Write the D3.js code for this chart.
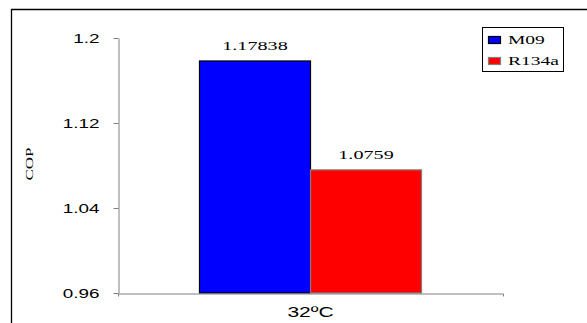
<!DOCTYPE html>
<html><head><meta charset="utf-8">
<script src="https://cdn.jsdelivr.net/npm/d3@7"></script>
<style>body{margin:0;background:#fff}svg{display:block}</style>
</head><body>
<script>
const categories = ["32ºC"];
const seriesNames = ["M09", "R134a"];
const seriesColors = ["#0000ff", "#ff0000"];
const seriesStrokes = ["#000000", "#808080"];
const values = { "M09": [1.17838], "R134a": [1.0759] };
const valueLabels = { "M09": ["1.17838"], "R134a": ["1.0759"] };
const yTicks = [0.96, 1.04, 1.12, 1.2];
const yTickLabels = ["0.96", "1.04", "1.12", "1.2"];

const W = 587, H = 323;
const svg = d3.select("body").append("svg").attr("width", W).attr("height", H);

// horizontally stretched glyphs, like the reference
function stretch(sel, k) {
  sel.each(function() {
    const w = this.getComputedTextLength();
    d3.select(this).attr("textLength", w * k).attr("lengthAdjust", "spacingAndGlyphs");
  });
}

// outer frame
svg.append("path").attr("d", `M11.5,${H}V9.5H${W}`).attr("fill","none").attr("stroke","#000").attr("stroke-width",1.3);

const plotLeft = 118, plotRight = 503, plotTop = 38, plotBottom = 293;
const x0 = d3.scaleBand().domain(categories).range([plotLeft, plotRight]).paddingInner(0).paddingOuter(0);
const x1 = d3.scaleBand().domain(seriesNames).range([0, x0.bandwidth()]).paddingInner(0).paddingOuter(0.734);
const y = d3.scaleLinear().domain([0.96, 1.2]).range([plotBottom, plotTop]);

// y axis
const yAxis = d3.axisLeft(y).tickValues(yTicks).tickFormat((d,i)=>yTickLabels[i]).tickSize(5).tickSizeOuter(0).tickPadding(14);
const gy = svg.append("g").attr("transform",`translate(${plotLeft+0.5},0)`).call(yAxis);
gy.select(".domain").attr("stroke","#808080");
gy.selectAll(".tick line").attr("stroke","#808080");
gy.selectAll(".tick text").attr("font-family","Liberation Sans, Arial").attr("font-size",13).attr("fill","#000").call(stretch, 1.45);

// bars
const g = svg.append("g");
seriesNames.forEach((s, si) => {
  categories.forEach((c, ci) => {
    const v = values[s][ci];
    const bx = x0(c) + x1(s);
    g.append("rect").attr("x", bx).attr("y", y(v)).attr("width", x1.bandwidth()).attr("height", y(0.96) - y(v))
      .attr("fill", seriesColors[si]).attr("stroke", seriesStrokes[si]).attr("stroke-width", 1.2);
    g.append("text").attr("x", bx + x1.bandwidth()/2).attr("y", y(v) - 11)
      .attr("text-anchor","middle").attr("font-family","Liberation Serif, Times New Roman").attr("font-size",13)
      .text(valueLabels[s][ci]).call(stretch, 1.55);
  });
});

// x axis
const xAxis = d3.axisBottom(x0).tickSize(0).tickSizeOuter(3).tickPadding(14);
const gx = svg.append("g").attr("transform",`translate(0,${plotBottom+0.5})`).call(xAxis);
gx.select(".domain").attr("stroke","#808080");
gx.selectAll(".tick text").attr("font-family","Liberation Sans, Arial").attr("font-size",14).attr("fill","#000").call(stretch, 1.5);

// y label
svg.append("text").attr("transform","translate(33,164) rotate(-90)").attr("text-anchor","middle")
  .attr("font-family","Liberation Serif, Times New Roman").attr("font-size",10)
  .attr("textLength",33).attr("lengthAdjust","spacingAndGlyphs").text("COP");

// legend
const lg = svg.append("g").attr("transform","translate(482.5,27.5)");
lg.append("rect").attr("width",81).attr("height",44).attr("fill","#fff").attr("stroke","#000").attr("stroke-width",1);
seriesNames.forEach((s, i) => {
  lg.append("rect").attr("x",6).attr("y",9 + i*21).attr("width",12).attr("height",7)
    .attr("fill",seriesColors[i]).attr("stroke",seriesStrokes[i]).attr("stroke-width",1.2);
  lg.append("text").attr("x",25.5).attr("y",16 + i*21).attr("font-family","Liberation Serif, Times New Roman")
    .attr("font-size",13).text(s).call(stretch, 1.5);
});
</script>
</body></html>
